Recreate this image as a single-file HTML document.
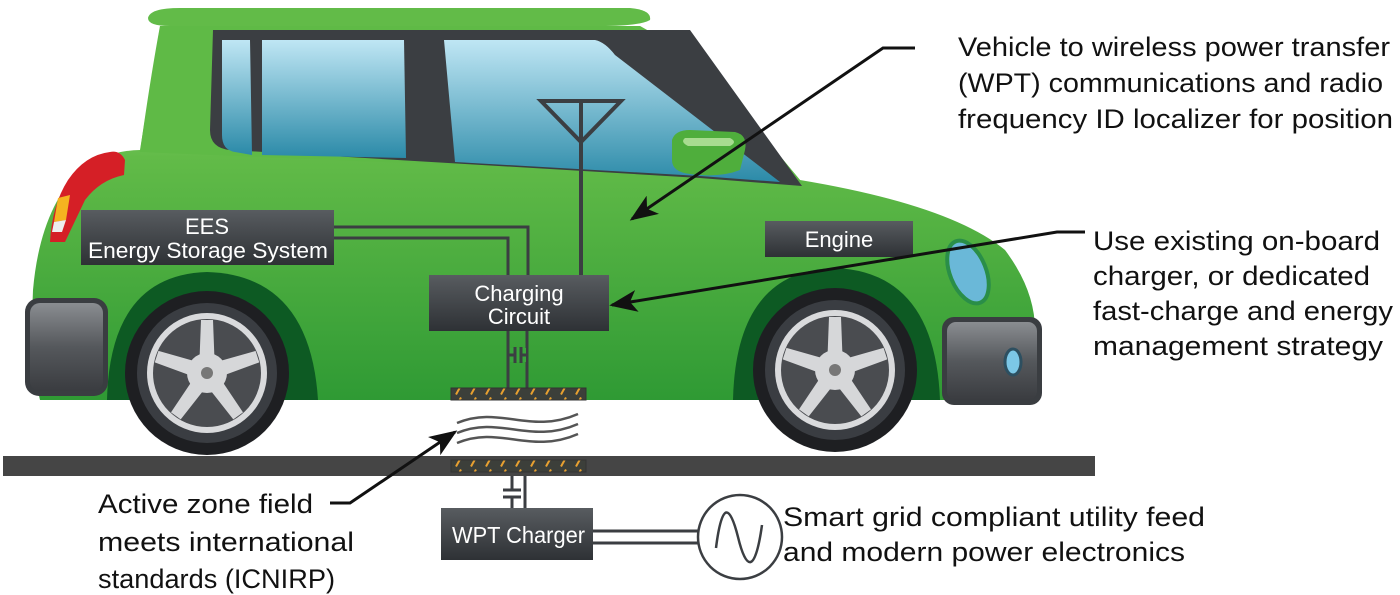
<!DOCTYPE html>
<html><head><meta charset="utf-8"><style>
html,body{margin:0;padding:0;background:#fff}
svg{display:block}
text{font-family:"Liberation Sans",sans-serif}
</style></head><body>
<svg width="1400" height="595" viewBox="0 0 1400 595" xmlns="http://www.w3.org/2000/svg">
<defs>
<linearGradient id="body" x1="0" y1="0" x2="0" y2="1">
<stop offset="0" stop-color="#b5dca0"/><stop offset="0.35" stop-color="#62bb48"/><stop offset="1" stop-color="#2f9a34"/>
</linearGradient>
<linearGradient id="glass" x1="0" y1="0" x2="0" y2="1">
<stop offset="0" stop-color="#bfe6f4"/><stop offset="1" stop-color="#2b8aa8"/>
</linearGradient>
<linearGradient id="box" x1="0" y1="0" x2="0" y2="1">
<stop offset="0" stop-color="#585c60"/><stop offset="1" stop-color="#2e3135"/>
</linearGradient>
<linearGradient id="bump" x1="0" y1="0" x2="0" y2="1">
<stop offset="0" stop-color="#8a8d91"/><stop offset="0.5" stop-color="#55585c"/><stop offset="1" stop-color="#3a3c40"/>
</linearGradient>
<pattern id="hatch" x="451" y="0" width="15" height="12" patternUnits="userSpaceOnUse">
<rect width="15" height="12" fill="#3c3f3a"/><line x1="5" y1="10.5" x2="10" y2="1.5" stroke="#e8a030" stroke-width="2"/>
</pattern>
<marker id="ah" viewBox="0 0 10 10" refX="9" refY="5" markerWidth="28" markerHeight="22" orient="auto" markerUnits="userSpaceOnUse" preserveAspectRatio="none">
<path d="M0,0 L10,5 L0,10 L2.5,5 z" fill="#111"/>
</marker>
</defs>

<path d="M148,18 Q150,8 180,8 L630,8 Q652,10 650,20 Q640,26 600,26 L170,26 Q148,26 148,18z" fill="#62bb48"/>
<path d="M160,26 L640,26 L700,60 L800,180 Q950,205 1005,250 Q1035,290 1035,330 L1035,400 L40,400 Q30,360 33,290 Q40,210 80,170 Q110,150 140,150 Z" fill="url(#body)"/>
<path d="M160,26 L640,26 L700,60 L800,180 L700,175 L140,152 Q150,80 160,26z" fill="#5fba46"/>
<path d="M213,30 L690,30 L802,186 L700,178 L230,150 Q210,148 210,130 Z" fill="#3b3e42"/>
<path d="M222,40 L250,40 L252,155 L235,152 Q222,150 222,135 Z" fill="url(#glass)"/>
<path d="M262,40 L404,40 L406,158 L262,155 Z" fill="url(#glass)"/>
<path d="M444,40 L595,40 Q605,42 615,55 L780,182 L700,176 L455,162 Z" fill="url(#glass)"/>
<path d="M672,140 Q675,130 690,130 L735,132 Q748,135 745,150 L740,170 Q720,178 690,174 Q672,172 672,160Z" fill="#4fae3c"/>
<path d="M685,138 L730,138 Q738,142 730,146 L688,146 Q680,142 685,138Z" fill="#a8dc90"/>
<path d="M110,152 Q120,150 125,160 L124,175 Q100,180 85,200 L65,242 L50,242 Q52,205 68,180 Q85,155 110,152Z" fill="#d51f26"/>
<path d="M58,198 L70,195 L66,220 L54,222Z" fill="#f5b320"/>
<path d="M54,222 L66,220 L62,232 L52,232Z" fill="#eee"/>
<path d="M107,400 Q110,275 207,272 Q310,275 318,400Z" fill="#0d5a23"/>
<path d="M733,400 Q736,270 835,268 Q935,272 940,400Z" fill="#0d5a23"/>
<rect x="25" y="298" width="83" height="98" rx="14" fill="#3a3d41"/>
<rect x="30" y="303" width="73" height="88" rx="10" fill="url(#bump)"/>
<rect x="942" y="317" width="100" height="88" rx="12" fill="#3a3d41"/>
<rect x="947" y="322" width="90" height="78" rx="9" fill="url(#bump)"/>
<ellipse cx="1013" cy="362" rx="8" ry="13" fill="#7cc7e6" stroke="#2d4f60" stroke-width="3"/>
<ellipse cx="968" cy="272" rx="18" ry="33" transform="rotate(-22 968 272)" fill="#6ab8d8" stroke="#2a8e48" stroke-width="4"/>
<g id="w">
<circle cx="207" cy="373" r="82" fill="#1e1f22"/>
<circle cx="207" cy="373" r="70" fill="#3a3d42"/>
<circle cx="207" cy="373" r="60" fill="#d9dadc"/>
<circle cx="207" cy="373" r="54" fill="#4a4c50"/>
<g fill="#d6d7d9">
<path d="M199,373 L201,320 L213,320 L215,373Z"/>
<path d="M199,373 L201,320 L213,320 L215,373Z" transform="rotate(72 207 373)"/>
<path d="M199,373 L201,320 L213,320 L215,373Z" transform="rotate(144 207 373)"/>
<path d="M199,373 L201,320 L213,320 L215,373Z" transform="rotate(216 207 373)"/>
<path d="M199,373 L201,320 L213,320 L215,373Z" transform="rotate(288 207 373)"/>
<circle cx="207" cy="373" r="20"/>
</g>
<circle cx="207" cy="373" r="6" fill="#777"/>
</g>
<use href="#w" transform="translate(628 -3)"/>

<g stroke="#3b3e42" stroke-width="4" fill="none">
<path d="M541,101 L621,101 L581,142 Z"/>
<line x1="581" y1="101" x2="581" y2="276"/>
</g>
<g stroke="#3b3e42" stroke-width="3" fill="none">
<path d="M333,227 L528,227 L528,276"/>
<path d="M333,238 L508,238 L508,276"/>
<path d="M508,331 L508,389 M527,331 L527,389"/>
<path d="M512,476 L512,508 M525,476 L525,508"/>
<path d="M593,531 L698,531 M593,543 L698,543"/>
</g>
<rect x="510" y="348" width="16" height="14" fill="#3aa53c"/>
<g stroke="#3b3e42" stroke-width="3"><line x1="515" y1="347" x2="515" y2="363"/><line x1="521" y1="347" x2="521" y2="363"/><line x1="508" y1="355" x2="515" y2="355"/><line x1="521" y1="355" x2="527" y2="355"/></g>
<rect x="503" y="486" width="18" height="14" fill="#fff"/>
<g stroke="#3b3e42" stroke-width="3"><line x1="503" y1="490" x2="521" y2="490"/><line x1="503" y1="497" x2="521" y2="497"/><line x1="512" y1="476" x2="512" y2="490"/><line x1="512" y1="497" x2="512" y2="508"/></g>

<rect x="81" y="210" width="253" height="55" fill="url(#box)"/>
<text x="207" y="234" font-size="22" fill="#fff" text-anchor="middle">EES</text>
<text x="88" y="258" font-size="22" fill="#fff" textLength="240" lengthAdjust="spacingAndGlyphs">Energy Storage System</text>
<rect x="429" y="275" width="180" height="56" fill="url(#box)"/>
<text x="519" y="301" font-size="22" fill="#fff" text-anchor="middle">Charging</text>
<text x="519" y="324" font-size="22" fill="#fff" text-anchor="middle">Circuit</text>
<rect x="765" y="221" width="148" height="36" fill="url(#box)"/>
<text x="839" y="247" font-size="22" fill="#fff" text-anchor="middle">Engine</text>

<rect x="451" y="388" width="135" height="12" fill="url(#hatch)" stroke="#333" stroke-width="1"/>
<rect x="3" y="456" width="1092" height="20" fill="#454545"/>
<rect x="451" y="460" width="135" height="12" fill="url(#hatch)" stroke="#333" stroke-width="1"/>
<g stroke="#555" stroke-width="2.5" fill="none">
<path d="M457,423 C500,405 530,435 578,414"/>
<path d="M457,433 C500,415 530,445 578,424"/>
<path d="M457,443 C500,425 530,455 578,434"/>
</g>

<rect x="441" y="508" width="152" height="52" fill="url(#box)"/>
<text x="452" y="543" font-size="23" fill="#fff" textLength="133" lengthAdjust="spacingAndGlyphs">WPT Charger</text>
<circle cx="740" cy="537" r="42" fill="#fff" stroke="#3b3e42" stroke-width="2.5"/>
<path d="M716,548 C722,500 730,505 738,537 C746,570 755,575 762,525" stroke="#3b3e42" stroke-width="2.5" fill="none"/>

<g stroke="#111" stroke-width="3" fill="none">
<path d="M915,48 L883,48 L632,219" marker-end="url(#ah)"/>
<path d="M1085,232 L1057,232 L612,305" marker-end="url(#ah)"/>
<path d="M330,503 L350,503 L455,432" marker-end="url(#ah)"/>
</g>

<g font-size="27" fill="#111">
<text x="958" y="56" textLength="432" lengthAdjust="spacingAndGlyphs">Vehicle to wireless power transfer</text>
<text x="958" y="92" textLength="425" lengthAdjust="spacingAndGlyphs">(WPT) communications and radio</text>
<text x="958" y="128" textLength="435" lengthAdjust="spacingAndGlyphs">frequency ID localizer for position</text>
<text x="1093" y="250" textLength="287" lengthAdjust="spacingAndGlyphs">Use existing on-board</text>
<text x="1093" y="285" textLength="277" lengthAdjust="spacingAndGlyphs">charger, or dedicated</text>
<text x="1093" y="320" textLength="300" lengthAdjust="spacingAndGlyphs">fast-charge and energy</text>
<text x="1093" y="355" textLength="290" lengthAdjust="spacingAndGlyphs">management strategy</text>
<text x="98" y="513" textLength="215" lengthAdjust="spacingAndGlyphs">Active zone field</text>
<text x="98" y="551" textLength="256" lengthAdjust="spacingAndGlyphs">meets international</text>
<text x="98" y="588" textLength="237" lengthAdjust="spacingAndGlyphs">standards (ICNIRP)</text>
<text x="783" y="526" textLength="422" lengthAdjust="spacingAndGlyphs">Smart grid compliant utility feed</text>
<text x="783" y="561" textLength="402" lengthAdjust="spacingAndGlyphs">and modern power electronics</text>
</g>
</svg>
</body></html>
